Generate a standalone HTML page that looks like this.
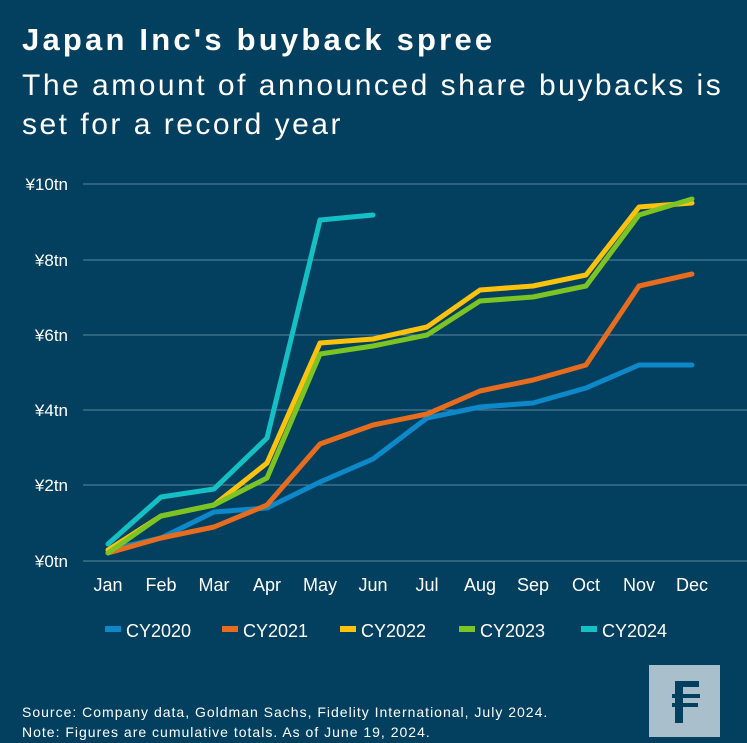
<!DOCTYPE html>
<html><head><meta charset="utf-8"><style>
body{margin:0;width:747px;height:743px;background:#03405f;overflow:hidden;font-family:"Liberation Sans",sans-serif;color:#fff}
.t{position:absolute;left:22px;top:22px;font-size:31px;font-weight:bold;letter-spacing:3.2px;white-space:nowrap}
.s{position:absolute;left:22px;top:66px;font-size:30px;line-height:39px;letter-spacing:2.5px;white-space:nowrap}
.f{position:absolute;left:22px;top:702px;font-size:14px;line-height:20px;letter-spacing:1px;white-space:nowrap}
.logo{position:absolute;left:649px;top:665px;width:71px;height:72px;background:#a9c0cc}
</style></head><body>
<div class="logo"></div>
<div class="t">Japan Inc's buyback spree</div>
<div class="s">The amount of announced share buybacks is<br>set for a record year</div>
<svg width="747" height="743" style="position:absolute;left:0;top:0">
<g stroke="#5a87a3" stroke-width="1">
<line x1="83" x2="747" y1="184" y2="184"/><line x1="83" x2="747" y1="260" y2="260"/>
<line x1="83" x2="747" y1="335" y2="335"/><line x1="83" x2="747" y1="410" y2="410"/>
<line x1="83" x2="747" y1="485" y2="485"/><line x1="83" x2="747" y1="561" y2="561"/>
</g>
<g fill="#fff" font-size="17" text-anchor="end" font-family="Liberation Sans,sans-serif">
<text x="68" y="190">¥10tn</text><text x="68" y="266">¥8tn</text><text x="68" y="341">¥6tn</text>
<text x="68" y="416">¥4tn</text><text x="68" y="491">¥2tn</text><text x="68" y="567">¥0tn</text>
</g>
<g fill="#fff" font-size="18" text-anchor="middle" font-family="Liberation Sans,sans-serif">
<text x="108" y="591">Jan</text><text x="161" y="591">Feb</text><text x="214" y="591">Mar</text><text x="267" y="591">Apr</text><text x="320" y="591">May</text><text x="373" y="591">Jun</text><text x="427" y="591">Jul</text><text x="480" y="591">Aug</text><text x="533" y="591">Sep</text><text x="586" y="591">Oct</text><text x="639" y="591">Nov</text><text x="692" y="591">Dec</text>
</g>
<g fill="none" stroke-width="5" stroke-linejoin="round" stroke-linecap="round">
<polyline stroke="#0d88c9" points="108,550 161,538 214,512 267,508 320,482 373,459 427,418 480,407 533,403 586,388 639,365 692,365"/>
<polyline stroke="#e86c1e" points="108,553 161,538 214,527 267,505 320,444 373,425 427,414 480,391 533,380 586,365 639,286 692,274"/>
<polyline stroke="#fdc20b" points="108,550 161,516 214,505 267,463 320,343 373,339 427,327 480,290 533,286 586,275 639,207 692,203"/>
<polyline stroke="#7cc424" points="108,553 161,516 214,505 267,478 320,354 373,346 427,335 480,301 533,297 586,286 639,215 692,199"/>
<polyline stroke="#14c0c4" points="108,544 161,497 214,489 267,438 320,220 373,215"/>
</g>
<g font-size="18" fill="#fff" font-family="Liberation Sans,sans-serif">
<rect x="105" y="626" width="16" height="6" fill="#0d88c9"/><text x="126" y="637">CY2020</text>
<rect x="222" y="626" width="16" height="6" fill="#e86c1e"/><text x="243" y="637">CY2021</text>
<rect x="340" y="626" width="16" height="6" fill="#fdc20b"/><text x="361" y="637">CY2022</text>
<rect x="459" y="626" width="16" height="6" fill="#7cc424"/><text x="480" y="637">CY2023</text>
<rect x="581" y="626" width="16" height="6" fill="#14c0c4"/><text x="602" y="637">CY2024</text>
</g>
<g fill="#03405f">
<rect x="675" y="681" width="24" height="6"/><rect x="675" y="681" width="8" height="42"/>
<rect x="672" y="694" width="28" height="4"/><rect x="672" y="703" width="26" height="4"/>
</g>
</svg>
<div class="f">Source: Company data, Goldman Sachs, Fidelity International, July 2024.<br>Note: Figures are cumulative totals. As of June 19, 2024.</div>
</body></html>
